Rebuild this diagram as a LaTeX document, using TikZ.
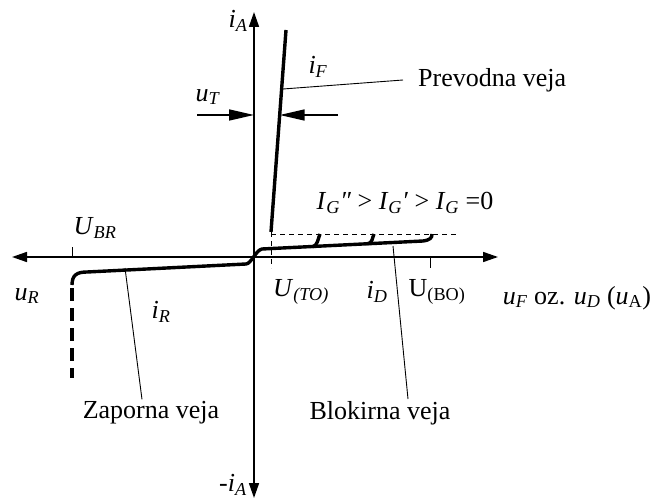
\documentclass[tikz,border=0pt]{standalone}
\usepackage{fontspec}
\setmainfont{Liberation Serif}
\usetikzlibrary{arrows.meta}
\newcommand{\vsub}[2]{\textit{#1}\textsubscript{\textit{#2}}}

\begin{document}
\begin{tikzpicture}[x=1pt, y=-1pt,
        every node/.style={font=\fontsize{26}{30}\selectfont, inner sep=2pt},
        axis/.style={line width=1.6pt, {Triangle[length=15pt,width=10pt]}-{Triangle[length=15pt,width=10pt]}},
        marker/.style={line width=1.6pt, -{Triangle[length=25pt,width=11pt]}},
        branch/.style={line width=3.4pt},
        guide/.style={line width=0.9pt, dash pattern=on 5pt off 4pt},
        leader/.style={line width=0.9pt},
        tick/.style={line width=1pt}
    ]
    \useasboundingbox (0,0) rectangle (652,502);
%
    % axes
    \coordinate (o) at (254,257);
    \coordinate (xl) at (12,257);
    \coordinate (xr) at (498,257);
    \coordinate (yt) at (254,12);
    \coordinate (yb) at (254,498);
    \draw[axis] (xl) -- (xr);
    \draw[axis] (yb) -- (yt);
%
    % forward branch and u_T
    \coordinate (ftop) at (286,30);
    \coordinate (fbot) at (271,232);
    \draw[branch] (ftop) -- (fbot);
    \coordinate (utl) at (197,115);
    \coordinate (utr) at (338,115);
    \coordinate (utf) at (279.7,115);
    \draw[marker] (utl) -- (254,115);
    \draw[marker] (utr) -- (utf);
%
    % blocking and reverse branch
    \draw[branch] (72,285) .. controls (72,275) and (77,272) .. (87,272) -- (246,264)
        .. controls (251,264) and (256,250) .. (262,249) -- (423,241)
        .. controls (430,240) and (432,238) .. (432,234);
    \draw[branch] (312,247) .. controls (318,246) and (318,238) .. (320,234);
    \draw[branch] (367,244) .. controls (373,243) and (372,238) .. (374,234);
    \draw[branch, dash pattern=on 13pt off 7pt] (72,288) -- (72,378);
%
    % guides and ticks
    \draw[guide] (271,232) -- (271,268);
    \draw[guide] (271,234) -- (457,234);
    \draw[tick] (430,257) -- (430,268);
    \draw[tick] (72,257) -- (72,247);
%
    % labels
    \node (ia) at (238,21) {\vsub{i}{A}};
    \node (mia) at (233,485) {-\vsub{i}{A}};
    \node (ut) at (208,97) {\vsub{u}{T}};
    \node (iff) at (318,67) {\vsub{i}{F}};
    \node[anchor=west] (prevodna) at (416,80) {Prevodna veja};
    \node (ig) at (405,203) {\vsub{I}{G}\textit{″} > \vsub{I}{G}\textit{′} >\ \vsub{I}{G} =0};
    \node (uto) at (301,292) {\vsub{U}{(TO)}};
    \node (id) at (377,292) {\vsub{i}{D}};
    \node (ubo) at (437,292) {U\textsubscript{(BO)}};
    \node (ubr) at (95,228) {\vsub{U}{BR}};
    \node (ur) at (27,296) {\vsub{u}{R}};
    \node (ir) at (161,312) {\vsub{i}{R}};
    \node (zaporna) at (151,413) {Zaporna veja};
    \node (blokirna) at (380,413) {Blokirna veja};
    \node (uf) at (577,298) {\vsub{u}{F} oz. \vsub{u}{D} (\textit{u}\textsubscript{A})};
%
    % leaders
    \coordinate (pf) at (283,89);
    \coordinate (pb) at (393,246);
    \coordinate (pr) at (125,268);
    \draw[leader] (pf) -- ([xshift=-13pt]prevodna.west);
    \draw[leader] (pb) -- ([xshift=28pt]blokirna.north);
    \draw[leader] (pr) -- ([xshift=-9pt]zaporna.north);
\end{tikzpicture}
\end{document}
